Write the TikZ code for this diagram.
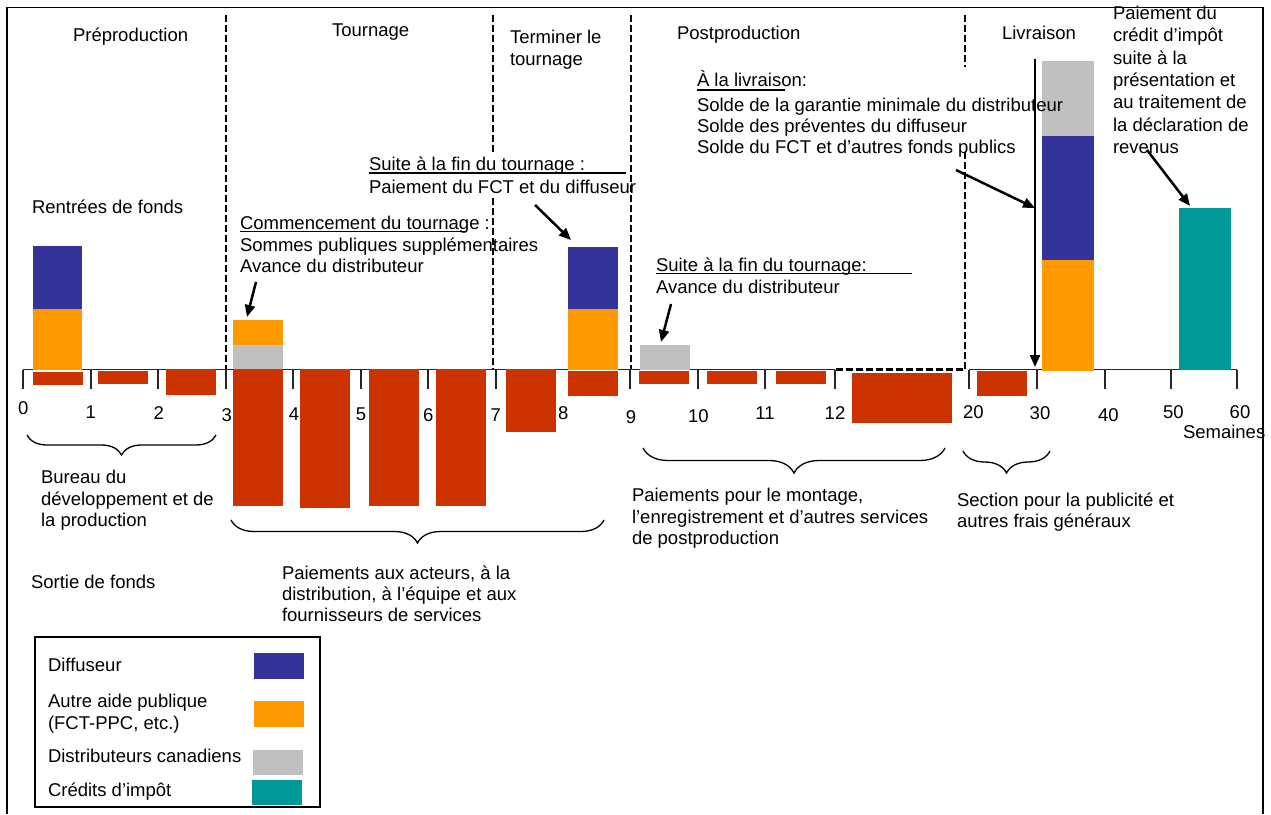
\documentclass[tikz,border=0pt]{standalone}
\usepackage{fontspec}
\setmainfont{Liberation Sans}
\usetikzlibrary{arrows.meta,decorations.pathreplacing}
\definecolor{cblue}{HTML}{333399}
\definecolor{corange}{HTML}{FF9900}
\definecolor{cgray}{HTML}{C0C0C0}
\definecolor{cteal}{HTML}{009999}
\definecolor{cred}{HTML}{CC3300}
\begin{document}
\begin{tikzpicture}[x=1pt,y=-1pt,
  every node/.style={inner sep=0pt,outer sep=0pt,font=\fontsize{18.5}{21.5}\selectfont},
  txt/.style={anchor=base west,align=left},
  num/.style={anchor=center},
  phase/.style={line width=2.2pt,dash pattern=on 6.5pt off 3.5pt},
  framed/.style={line width=1.5pt},
  axisline/.style={line width=1.5pt,draw=black!85},
  tickmark/.style={line width=1.5pt,draw=black!85},
  ptr/.style={line width=2.5pt,-{Triangle[length=12pt,width=10pt]}},
  vptr/.style={line width=2pt,-{Triangle[length=12pt,width=10pt]}},
  uline/.style={line width=1.5pt},
  brc/.style={line width=1.3pt,decorate,decoration={brace,mirror,amplitude=#1}}
]
\useasboundingbox (0,0) rectangle (1271,814);
% frame
\draw[framed] (7,814) -- (7,7.5) -- (1263,7.5) -- (1263,814);
% phase separators
\draw[phase] (226,15) -- (226,369.5);
\draw[phase] (493,15) -- (493,153);
\draw[phase] (493,198) -- (493,369.5);
\draw[phase] (631,15) -- (631,369.5);
\draw[phase] (965,15) -- (965,67);
\draw[phase] (965,152) -- (965,369.5) -- (835,369.5);
% axis
\draw[axisline] (23,369.5) -- (835,369.5);
\draw[axisline] (969,369.5) -- (1237,369.5);
\foreach \tx in {23,91,158,226,293,361,428,496,630,698,765,835,969,1037,1105,1171,1237}
  \draw[tickmark] (\tx,369.5) -- (\tx,389);
% bars (inflows)
\fill[cblue] (33,246) rectangle (82,309);
\fill[corange] (33,309) rectangle (82,369.5);
\fill[corange] (233,320) rectangle (283,345);
\fill[cgray] (233,345) rectangle (283,369.5);
\fill[cblue] (568,247) rectangle (618,309);
\fill[corange] (568,309) rectangle (618,369.5);
\fill[cgray] (640,345) rectangle (690,369.5);
\fill[cgray] (1042,61) rectangle (1094,136);
\fill[cblue] (1042,136) rectangle (1094,260);
\fill[corange] (1042,260) rectangle (1094,371);
\fill[cteal] (1179,208) rectangle (1231,370);
% bars (outflows)
\fill[cred] (33,372) rectangle (83,385);
\fill[cred] (98,371) rectangle (148,384);
\fill[cred] (166,369) rectangle (216,395);
\fill[cred] (233,369) rectangle (283,506);
\fill[cred] (300,369) rectangle (350,508);
\fill[cred] (369,369) rectangle (419,506);
\fill[cred] (436,369) rectangle (486,506);
\fill[cred] (506,369) rectangle (556,432);
\fill[cred] (568,371) rectangle (618,396);
\fill[cred] (639,371) rectangle (689,384);
\fill[cred] (707,371) rectangle (757,384);
\fill[cred] (776,371) rectangle (826,384);
\fill[cred] (852,373) rectangle (952,423);
\fill[cred] (977,371) rectangle (1027,396);
% tick labels
\node[num] (t0) at (23.3,408.3) {0};
\node[num] (t1) at (90.7,411.7) {1};
\node[num] (t2) at (158.7,412.7) {2};
\node[num] (t3) at (226.7,415) {3};
\node[num] (t4) at (294,414.3) {4};
\node[num] (t5) at (361,414) {5};
\node[num] (t6) at (428.3,415) {6};
\node[num] (t7) at (495.7,415) {7};
\node[num] (t8) at (563.3,413.3) {8};
\node[num] (t9) at (631,417.3) {9};
\node[num] (t10) at (698.3,416) {10};
\node[num] (t11) at (765,413.3) {11};
\node[num] (t12) at (835,412.7) {12};
\node[num] (t20) at (973.3,411.7) {20};
\node[num] (t30) at (1040,413.3) {30};
\node[num] (t40) at (1108.3,415) {40};
\node[num] (t50) at (1173.3,411.7) {50};
\node[num] (t60) at (1240,411.7) {60};
\node[txt] (sem) at (1183,438.5) {Semaines};
% phase titles (multi-line nodes are placed by the baseline of their last line)
\node[txt] (prepro) at (73,41.5) {Préproduction};
\node[txt] (tourn) at (332,36.5) {Tournage};
\node[txt] (term) at (510,65) {Terminer le\\tournage};
\node[txt] (postp) at (677,39.5) {Postproduction};
\node[txt] (livr) at (1002,39.5) {Livraison};
\node[txt,font=\fontsize{18.5}{22.3}\selectfont] (credit) at (1113,153.3) {Paiement du\\crédit d’impôt\\suite à la\\présentation et\\au traitement de\\la déclaration de\\revenus};
% annotations
\node[txt] (alivr) at (697,86.5) {À la livraison:};
\node[txt,font=\fontsize{18.5}{21}\selectfont] (solde) at (697,153) {Solde de la garantie minimale du distributeur\\Solde des préventes du diffuseur\\Solde du FCT et d’autres fonds publics};
\node[txt,font=\fontsize{18.5}{23}\selectfont] (suite1) at (369,193) {Suite à la fin du tournage :\\Paiement du FCT et du diffuseur};
\node[txt] (rentrees) at (32,213.5) {Rentrées de fonds};
\node[txt] (comm) at (240,272.5) {Commencement du tournage :\\Sommes publiques supplémentaires\\Avance du distributeur};
\node[txt,font=\fontsize{18.5}{22}\selectfont] (suite2) at (656,293) {Suite à la fin du tournage:\\Avance du distributeur};
\node[txt] (bureau) at (41,526.5) {Bureau du\\développement et de\\la production};
\node[txt] (sortie) at (31,588.5) {Sortie de fonds};
\node[txt,font=\fontsize{18.5}{21}\selectfont] (paiact) at (282,621.5) {Paiements aux acteurs, à la\\distribution, à l’équipe et aux\\fournisseurs de services};
\node[txt] (paipost) at (632,544.5) {Paiements pour le montage,\\l’enregistrement et d’autres services\\de postproduction};
\node[txt,font=\fontsize{18.5}{21}\selectfont] (section) at (957,527.5) {Section pour la publicité et\\autres frais généraux};
% underlines
\draw[uline] (697,90) -- (785,90);
\draw[uline] (369,173) -- (626,173);
\draw[uline] (240,231.5) -- (465,231.5);
\draw[uline] (656,273.5) -- (912,273.5);
% arrows
\coordinate (a1s) at (256,282); \coordinate (a1e) at (247,317);
\coordinate (a2s) at (535,205); \coordinate (a2e) at (571,240);
\coordinate (a3s) at (671,304); \coordinate (a3e) at (661,342);
\coordinate (a4s) at (956,170); \coordinate (a4e) at (1035,208);
\coordinate (a5s) at (1147,150); \coordinate (a5e) at (1190,206);
\coordinate (a6s) at (1035,59); \coordinate (a6e) at (1035,367);
\draw[ptr] (a1s) -- (a1e);
\draw[ptr] (a2s) -- (a2e);
\draw[ptr] (a3s) -- (a3e);
\draw[ptr] (a4s) -- (a4e);
\draw[ptr] (a5s) -- (a5e);
\draw[vptr] (a6s) -- (a6e);
% braces
\draw[brc=20] (27,435) -- (216,435);
\draw[brc=23] (231,520) -- (604,520);
\draw[brc=25] (643,448) -- (945,448);
\draw[brc=22] (963,451) -- (1050,451);
% legend
\draw[line width=1.5pt] (35,637) rectangle (320,807);
\node[txt] (ldiff) at (48,671.5) {Diffuseur};
\node[txt] (lautre) at (48,729) {Autre aide publique\\(FCT-PPC, etc.)};
\node[txt] (ldist) at (48,762.5) {Distributeurs canadiens};
\node[txt] (lcred) at (48,796.5) {Crédits d’impôt};
\fill[cblue] (254,653) rectangle (304,679);
\fill[corange] (254,701) rectangle (304,727);
\fill[cgray] (253,750) rectangle (303,775);
\fill[cteal] (252,780) rectangle (302,805);
\end{tikzpicture}
\end{document}
